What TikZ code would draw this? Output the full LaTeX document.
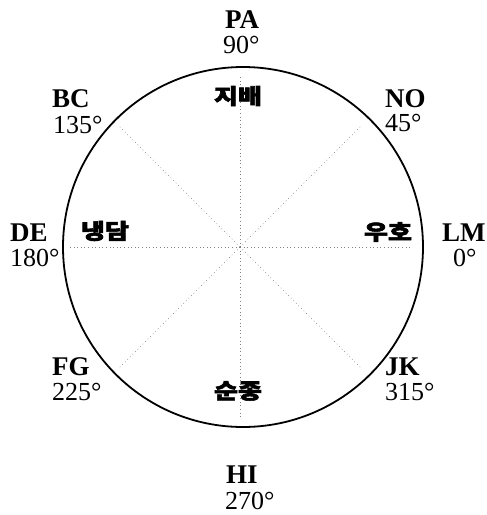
\documentclass[tikz,border=0pt]{standalone}
\usepackage{fontspec}
\usetikzlibrary{calc}
\setmainfont{Liberation Serif}
\newfontfamily\kr{Noto Sans CJK KR}[BoldFeatures={FakeBold=2.5}]
\begin{document}
\begin{tikzpicture}[x=1pt,y=-1pt,
  lbl/.style={anchor=base west,inner sep=0pt,font=\fontsize{27}{27}\selectfont\bfseries},
  deg/.style={anchor=base west,inner sep=0pt,font=\fontsize{26}{26}\selectfont},
  kor/.style={inner sep=0pt,font=\kr\bfseries\fontsize{26}{26}\selectfont,xscale=1.0,yscale=0.82},
  ray/.style={gray,line width=0.6pt,dash pattern=on 0.8pt off 2.8pt},
  rim/.style={line width=1.8pt}]
\useasboundingbox (0,0) rectangle (487,515);
\coordinate (c) at (240,247);
\foreach \a/\n in {0/r0,45/r45,90/r90,135/r135,180/r180,225/r225,270/r270,315/r315}
  \coordinate (\n) at ($(c)+(\a:170pt)$);
\foreach \n in {r0,r45,r90,r135,r180,r225,r270,r315}
  \draw[ray] (c) -- (\n);
\draw[rim] (243,247) circle[radius=180];
% Korean labels
\node[kor] (dom) at (238,96) {지배};
\node[kor] (sub) at (238,391) {순종};
\node[kor] (hos) at (105,231) {냉담};
\node[kor] (fri) at (388,232) {우호};
% outer labels
\node[lbl] (pa) at (225,28) {PA};   \node[deg] (d90) at (223,53) {90°};
\node[lbl] (bc) at (52,107) {BC};   \node[deg] (d135) at (53,133) {135°};
\node[lbl] (no) at (385,107) {NO};  \node[deg] (d45) at (385,131) {45°};
\node[lbl] (de) at (10,241) {DE};   \node[deg] (d180) at (10,266) {180°};
\node[lbl] (lm) at (442,241) {LM};  \node[deg] (d0) at (453,266) {0°};
\node[lbl] (fg) at (52,375) {FG};   \node[deg] (d225) at (52,400) {225°};
\node[lbl] (jk) at (385,375) {JK};  \node[deg] (d315) at (385,400) {315°};
\node[lbl] (hi) at (226,483) {HI};  \node[deg] (d270) at (225,509) {270°};
\end{tikzpicture}
\end{document}
